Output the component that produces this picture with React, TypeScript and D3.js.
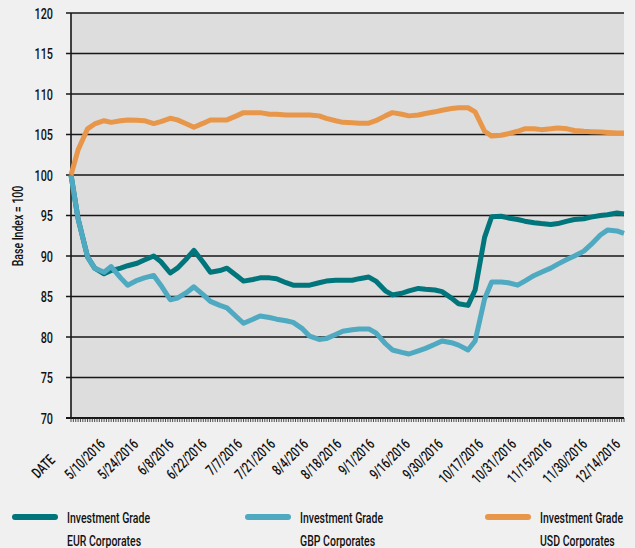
import { useEffect, useRef } from 'react';
import * as d3 from 'd3';

// twice weekly observations (Tue / Fri)
const dates = [
  '4/26/2016', '4/29/2016',
  '5/3/2016', '5/6/2016', '5/10/2016', '5/13/2016', '5/17/2016', '5/20/2016', '5/24/2016', '5/27/2016', '5/31/2016',
  '6/3/2016', '6/7/2016', '6/10/2016', '6/14/2016', '6/17/2016', '6/21/2016', '6/24/2016', '6/28/2016',
  '7/1/2016', '7/5/2016', '7/8/2016', '7/12/2016', '7/15/2016', '7/19/2016', '7/22/2016', '7/26/2016', '7/29/2016',
  '8/2/2016', '8/5/2016', '8/9/2016', '8/12/2016', '8/16/2016', '8/19/2016', '8/23/2016', '8/26/2016', '8/30/2016',
  '9/2/2016', '9/6/2016', '9/9/2016', '9/13/2016', '9/16/2016', '9/20/2016', '9/23/2016', '9/27/2016', '9/30/2016',
  '10/4/2016', '10/7/2016', '10/11/2016', '10/14/2016', '10/18/2016', '10/21/2016', '10/25/2016', '10/28/2016',
  '11/1/2016', '11/4/2016', '11/8/2016', '11/11/2016', '11/15/2016', '11/18/2016', '11/22/2016', '11/25/2016', '11/29/2016',
  '12/2/2016', '12/6/2016', '12/9/2016', '12/13/2016', '12/16/2016'
];

const eur = [
  100, 94.6,
  89.9, 88.5, 87.8, 88.2, 88.5, 88.8, 89.1, 89.5, 90.0,
  89.3, 87.9, 88.5, 89.7, 90.7, 89.2, 88.0, 88.2,
  88.5, 87.6, 86.9, 87.1, 87.3, 87.3, 87.2, 86.7, 86.4,
  86.4, 86.4, 86.7, 86.9, 87.0, 87.0, 87.0, 87.2, 87.4,
  86.9, 85.7, 85.2, 85.4, 85.7, 86.0, 85.9, 85.8, 85.6,
  84.8, 84.1, 83.9, 85.8, 92.3, 94.85, 94.9, 94.7,
  94.5, 94.3, 94.1, 94.0, 93.9, 94.0, 94.3, 94.5, 94.6,
  94.8, 95.0, 95.1, 95.3, 95.2
];

const gbp = [
  100, 94.6,
  89.9, 88.5, 88.0, 88.7, 87.3, 86.4, 87.0, 87.3, 87.6,
  86.4, 84.6, 84.8, 85.5, 86.2, 85.2, 84.4, 83.9,
  83.6, 82.5, 81.7, 82.2, 82.6, 82.4, 82.2, 82.0, 81.8,
  81.0, 80.1, 79.7, 79.8, 80.3, 80.7, 80.9, 81.0, 81.0,
  80.5, 79.2, 78.4, 78.1, 77.9, 78.3, 78.6, 79.1, 79.5,
  79.3, 79.0, 78.4, 79.5, 84.7, 86.8, 86.8, 86.7,
  86.4, 86.9, 87.6, 88.0, 88.5, 89.0, 89.6, 90.0, 90.6,
  91.4, 92.6, 93.2, 93.1, 92.8
];

const usd = [
  100, 103.1,
  105.7, 106.3, 106.7, 106.5, 106.7, 106.8, 106.75, 106.7, 106.35,
  106.6, 107.0, 106.8, 106.3, 105.9, 106.4, 106.8, 106.8,
  106.8, 107.3, 107.7, 107.7, 107.7, 107.5, 107.5, 107.4, 107.4,
  107.4, 107.4, 107.3, 107.0, 106.7, 106.5, 106.45, 106.4, 106.4,
  106.7, 107.3, 107.7, 107.5, 107.3, 107.4, 107.6, 107.8, 108.0,
  108.2, 108.3, 108.3, 107.8, 105.4, 104.8, 104.9, 105.1,
  105.4, 105.7, 105.7, 105.6, 105.7, 105.8, 105.7, 105.5, 105.4,
  105.35, 105.3, 105.25, 105.2, 105.2
];

const tickDates = [
  '4/26/2016', '5/10/2016', '5/24/2016', '6/8/2016', '6/22/2016', '7/7/2016', '7/21/2016', '8/4/2016',
  '8/18/2016', '9/1/2016', '9/16/2016', '9/30/2016', '10/17/2016', '10/31/2016', '11/15/2016', '11/30/2016', '12/14/2016'
];
const tickLabels = [
  'DATE', '5/10/2016', '5/24/2016', '6/8/2016', '6/22/2016', '7/7/2016', '7/21/2016', '8/4/2016',
  '8/18/2016', '9/1/2016', '9/16/2016', '9/30/2016', '10/17/2016', '10/31/2016', '11/15/2016', '11/30/2016', '12/14/2016'
];

const yTicks = [70, 75, 80, 85, 90, 95, 100, 105, 110, 115, 120];

const seriesNames = [
  ['Investment Grade', 'EUR Corporates'],
  ['Investment Grade', 'GBP Corporates'],
  ['Investment Grade', 'USD Corporates']
];
const colors = ['#00757b', '#4ea9c1', '#e8964a'];

// no condensed face installed, so squeeze a regular face horizontally
const FONT = 'Roboto, "Liberation Sans", Arial, sans-serif';
const WEIGHT = 500;
const SX = 0.7;

const App = () => {
  const svgRef = useRef<SVGSVGElement>(null);

  useEffect(() => {
    const width = 635;
    const height = 548;
    const margin = { top: 13, right: 11, bottom: 130, left: 71 };

    const parse = d3.timeParse('%m/%d/%Y');
    const xs = dates.map(d => parse(d) as Date);

    const svg = d3.select(svgRef.current)
      .attr('width', width)
      .attr('height', height);
    svg.selectAll('*').remove();

    svg.append('rect')
      .attr('width', width)
      .attr('height', height)
      .attr('fill', '#f0f0f0');

    const xScale = d3.scaleTime()
      .domain([xs[0], xs[xs.length - 1]])
      .range([margin.left, width - margin.right]);

    const yScale = d3.scaleLinear()
      .domain([70, 120])
      .range([height - margin.bottom, margin.top]);

    const y0 = yScale(70);

    svg.append('rect')
      .attr('x', margin.left)
      .attr('y', margin.top)
      .attr('width', width - margin.right - margin.left)
      .attr('height', y0 - margin.top)
      .attr('fill', '#dcdddc');

    // horizontal grid + left ticks
    svg.selectAll('.grid')
      .data(yTicks)
      .enter().append('line')
      .attr('class', 'grid')
      .attr('x1', margin.left - 5)
      .attr('x2', width - margin.right)
      .attr('y1', d => yScale(d))
      .attr('y2', d => yScale(d))
      .attr('stroke', '#161616')
      .attr('stroke-width', d => d === 70 ? 2 : 1.6);

    svg.append('line')
      .attr('x1', margin.left)
      .attr('x2', margin.left)
      .attr('y1', margin.top)
      .attr('y2', y0)
      .attr('stroke', '#161616')
      .attr('stroke-width', 1.6);

    svg.selectAll('.ylab')
      .data(yTicks)
      .enter().append('text')
      .attr('class', 'ylab')
      .attr('transform', d => `translate(53, ${yScale(d) + 5.5}) scale(${SX}, 1)`)
      .attr('text-anchor', 'end')
      .attr('font-family', FONT)
      .attr('font-weight', WEIGHT)
      .attr('font-size', 15.5)
      .attr('fill', '#111')
      .text(d => d);

    svg.append('text')
      .attr('transform', `translate(23, 226) rotate(-90) scale(${SX}, 1)`)
      .attr('text-anchor', 'middle')
      .attr('font-family', FONT)
      .attr('font-weight', WEIGHT)
      .attr('font-size', 15)
      .attr('fill', '#111')
      .text('Base  Index = 100');

    // daily minor ticks on the date axis
    const days = d3.timeDay.range(xs[0], d3.timeDay.offset(xs[xs.length - 1], 1));
    svg.selectAll('.minor')
      .data(days)
      .enter().append('line')
      .attr('class', 'minor')
      .attr('x1', d => xScale(d))
      .attr('x2', d => xScale(d))
      .attr('y1', y0)
      .attr('y2', y0 + 4)
      .attr('stroke', '#222')
      .attr('stroke-width', 0.8);

    svg.selectAll('.xlab')
      .data(tickDates)
      .enter().append('text')
      .attr('class', 'xlab')
      .attr('transform', (d, i) => {
        const x = xScale(parse(d) as Date);
        return i === 0
          ? `translate(${x - 15}, ${y0 + 43}) rotate(-45) scale(${SX}, 1)`
          : `translate(${x + 2}, ${y0 + 27}) rotate(-45) scale(${SX}, 1)`;
      })
      .attr('text-anchor', 'end')
      .attr('font-family', FONT)
      .attr('font-weight', WEIGHT)
      .attr('font-size', 15)
      .attr('fill', '#111')
      .text((_, i) => tickLabels[i]);

    const line = d3.line<number>()
      .x((_, i) => xScale(xs[i]))
      .y(d => yScale(d))
      .curve(d3.curveLinear);

    svg.selectAll('.series')
      .data([eur, gbp, usd])
      .enter().append('path')
      .attr('class', 'series')
      .attr('fill', 'none')
      .attr('stroke', (_, i) => colors[i])
      .attr('stroke-width', 5)
      .attr('stroke-linejoin', 'round')
      .attr('d', d => line(d));

    // legend
    const legendX = [15, 248, 488];
    const legend = svg.selectAll('.legend')
      .data(seriesNames)
      .enter().append('g')
      .attr('class', 'legend')
      .attr('transform', (_, i) => `translate(${legendX[i]}, 517)`);

    legend.append('line')
      .attr('x1', 0)
      .attr('x2', 40)
      .attr('stroke', (_, i) => colors[i])
      .attr('stroke-width', 6)
      .attr('stroke-linecap', 'round');

    legend.append('text')
      .attr('transform', `translate(52, 5.5) scale(${SX}, 1)`)
      .attr('font-family', FONT)
      .attr('font-weight', WEIGHT)
      .attr('font-size', 15)
      .attr('fill', '#111')
      .text(d => d[0]);

    legend.append('text')
      .attr('transform', `translate(52, 28.5) scale(${SX}, 1)`)
      .attr('font-family', FONT)
      .attr('font-weight', WEIGHT)
      .attr('font-size', 15)
      .attr('fill', '#111')
      .text(d => d[1]);
  }, []);

  return (
    <div>
      <svg ref={svgRef} style={{ position: 'absolute', left: 0, top: 0, display: 'block' }} />
    </div>
  );
};

export default App;
